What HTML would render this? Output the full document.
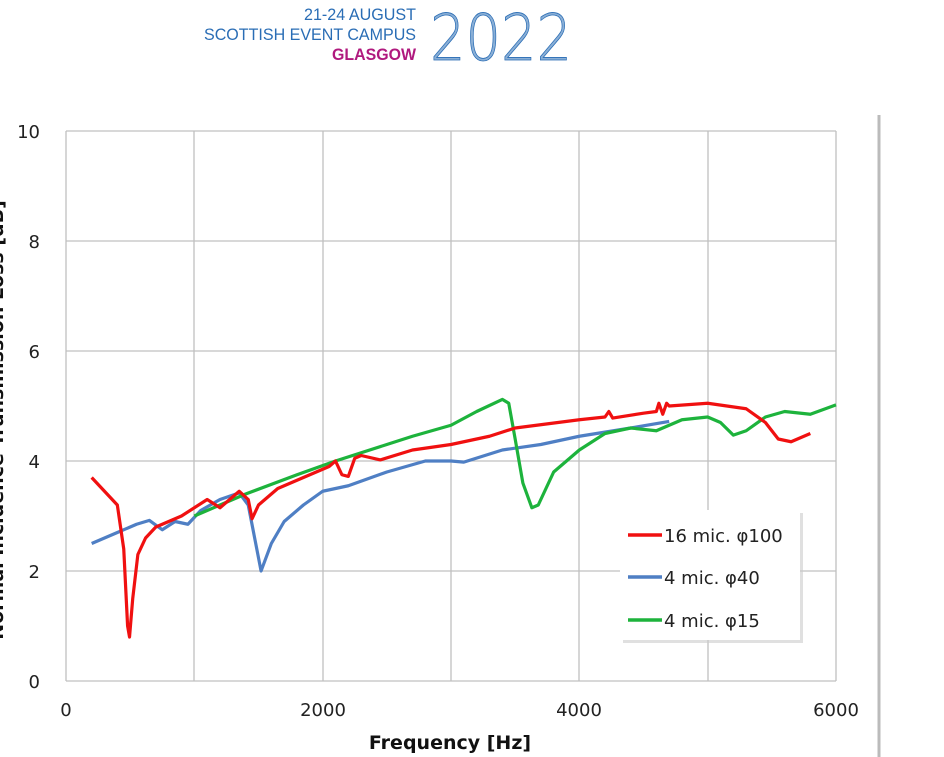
<!DOCTYPE html>
<html><head><meta charset="utf-8"><style>
body{margin:0;background:#fff;width:944px;height:757px;overflow:hidden;font-family:"DejaVu Sans","Liberation Sans",sans-serif}
</style></head><body>
<svg width="944" height="757" xmlns="http://www.w3.org/2000/svg" style="position:absolute;left:0;top:0">
<g font-family="Liberation Sans, sans-serif" fill="#2a6db5" text-anchor="end">
<text x="416" y="20" font-size="17" textLength="112" lengthAdjust="spacingAndGlyphs">21-24 AUGUST</text>
<text x="416" y="40" font-size="17" textLength="212" lengthAdjust="spacingAndGlyphs">SCOTTISH EVENT CAMPUS</text>
<text x="416" y="60" font-size="17" font-weight="bold" fill="#b0197e" textLength="84" lengthAdjust="spacingAndGlyphs">GLASGOW</text>
</g>
<text x="430" y="60" font-family="DejaVu Sans, sans-serif" font-size="64" font-weight="200" fill="#2a6db5" fill-opacity="0.55" stroke="#2a6db5" stroke-width="0.8" textLength="142" lengthAdjust="spacingAndGlyphs">2022</text>
<line x1="879" y1="115" x2="879" y2="757" stroke="#bbb" stroke-width="3"/>
<g stroke="#c0c0c0" stroke-width="1.3">
<line x1="66" y1="131" x2="836" y2="131"/><line x1="66" y1="241" x2="836" y2="241"/><line x1="66" y1="351" x2="836" y2="351"/><line x1="66" y1="461" x2="836" y2="461"/><line x1="66" y1="571" x2="836" y2="571"/><line x1="66" y1="681" x2="836" y2="681"/>
<line x1="66" y1="131" x2="66" y2="681"/><line x1="194" y1="131" x2="194" y2="681"/><line x1="323" y1="131" x2="323" y2="681"/><line x1="451" y1="131" x2="451" y2="681"/><line x1="579" y1="131" x2="579" y2="681"/><line x1="708" y1="131" x2="708" y2="681"/><line x1="836" y1="131" x2="836" y2="681"/>
</g>
<g font-size="18" fill="#222" text-anchor="end">
<text x="40" y="138">10</text><text x="40" y="248">8</text><text x="40" y="358">6</text><text x="40" y="468">4</text><text x="40" y="578">2</text><text x="40" y="688">0</text>
</g>
<g font-size="18" fill="#222" text-anchor="middle">
<text x="66" y="716">0</text><text x="323" y="716">2000</text><text x="579" y="716">4000</text><text x="836" y="716">6000</text>
</g>
<text x="450" y="749" font-size="19" font-weight="bold" text-anchor="middle" fill="#111">Frequency [Hz]</text>
<text transform="translate(3,420) rotate(-90)" font-size="19" font-weight="bold" text-anchor="middle" fill="#111">Normal Incidence Transmission Loss [dB]</text>
<g transform="translate(66,681) scale(0.128333,-55)" fill="none" stroke-width="3.2" stroke-linejoin="round">
<polyline vector-effect="non-scaling-stroke" stroke="#4f7fc4" points="200,2.5 300,2.6 400,2.7 550,2.85 650,2.92 750,2.75 850,2.9 950,2.85 1050,3.1 1200,3.3 1350,3.42 1420,3.2 1470,2.6 1520,2.0 1600,2.5 1700,2.9 1850,3.2 2000,3.45 2200,3.55 2500,3.8 2800,4.0 3000,4.0 3100,3.98 3400,4.2 3700,4.3 4000,4.45 4400,4.6 4700,4.72"/>
<polyline vector-effect="non-scaling-stroke" stroke="#1db33c" points="1000,3.0 1400,3.4 1800,3.75 2100,4.0 2500,4.3 2700,4.45 3000,4.65 3200,4.9 3400,5.12 3450,5.05 3500,4.4 3560,3.6 3630,3.15 3680,3.2 3800,3.8 4000,4.2 4200,4.5 4400,4.6 4600,4.55 4800,4.75 5000,4.8 5100,4.7 5200,4.47 5300,4.55 5450,4.8 5600,4.9 5800,4.85 6000,5.02"/>
<polyline vector-effect="non-scaling-stroke" stroke="#f01010" points="200,3.7 300,3.45 400,3.2 450,2.4 480,1.0 495,0.8 520,1.5 560,2.3 620,2.6 700,2.8 900,3.0 1100,3.3 1200,3.15 1350,3.45 1420,3.3 1450,2.95 1500,3.2 1650,3.5 1900,3.75 2050,3.9 2100,4.0 2150,3.75 2200,3.72 2250,4.05 2300,4.1 2450,4.02 2700,4.2 3000,4.3 3300,4.45 3500,4.6 4000,4.75 4200,4.8 4230,4.9 4260,4.78 4500,4.87 4600,4.9 4620,5.05 4650,4.85 4680,5.05 4700,5.0 5000,5.05 5300,4.95 5450,4.7 5550,4.4 5650,4.35 5800,4.5"/>
</g>
<rect x="623" y="513" width="180" height="130" fill="#ccc" opacity="0.6"/>
<rect x="620" y="510" width="180" height="130" fill="#fff"/>
<g stroke-width="3.5">
<line x1="628" y1="535" x2="662" y2="535" stroke="#f01010"/>
<line x1="628" y1="577" x2="662" y2="577" stroke="#4f7fc4"/>
<line x1="628" y1="620" x2="662" y2="620" stroke="#1db33c"/>
</g>
<g font-size="18" fill="#222">
<text x="664" y="542">16 mic. φ100</text>
<text x="664" y="584">4 mic. φ40</text>
<text x="664" y="627">4 mic. φ15</text>
</g>
</svg>
</body></html>
